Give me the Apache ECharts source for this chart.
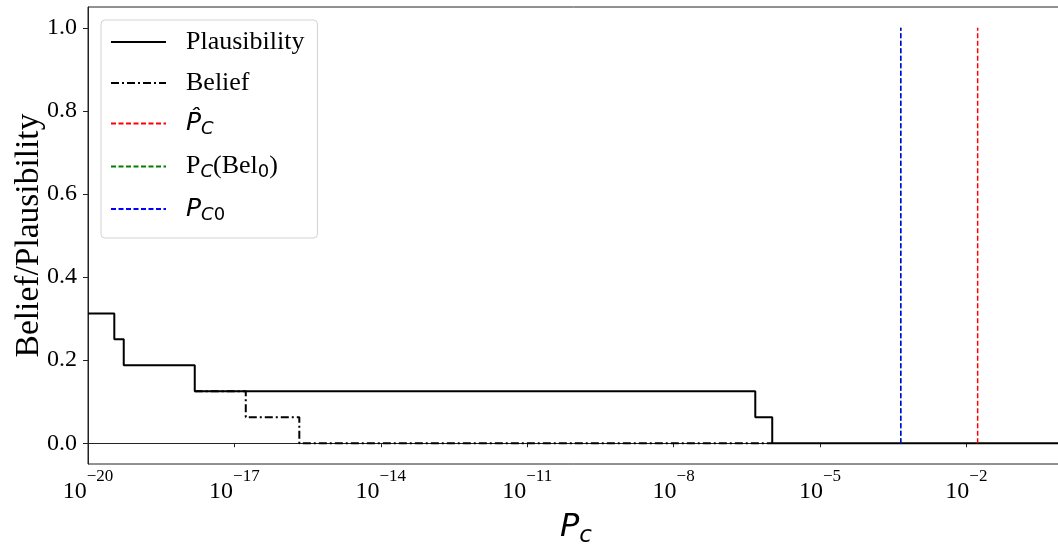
<!DOCTYPE html>
<html><head><meta charset="utf-8">
<script src="https://cdn.jsdelivr.net/npm/echarts@6/dist/echarts.min.js"></script>
<style>html,body{margin:0;padding:0;background:#fff}#c{width:1058px;height:546px}</style>
</head><body><div id="c"></div>
<script>
// Data
const plausX = [1e-20, 3.46e-20, 5.40e-20, 1.54e-18, 4.72e-7, 1.05e-6, 1];
const plausY = [0.3125, 0.25, 0.1875, 0.125, 0.0625, 0, 0];
const beliefX = [1.54e-18, 1.71e-17, 2.14e-16, 1.05e-6];
const beliefY = [0.125, 0.0625, 0, 0];
const pcHatX = 1.70e-2;
const pcBel0X = 4.51e-4;
const pc0X = 4.51e-4;
const vLineY = [0, 1];
const yTicks = [0, 0.2, 0.4, 0.6, 0.8, 1.0];
const names = ['Plausibility', 'Belief', 'Phat', 'PcBel0', 'Pc0'];

const pair = (xs, ys) => xs.map((x, i) => [x, ys[i]]);
const vline = (x) => vLineY.map(y => [x, y]);

const legendText = {
  Plausibility: '{rm|Plausibility}',
  Belief: '{rm|Belief}',
  Phat: '{mi|P\u0302}{msub|C}',
  PcBel0: '{rm|P}{msub|C}{rm|(Bel}{nsub|0}{rm|)}',
  Pc0: '{mi|P}{msub|C}{nsub|0}'
};

const serif = 'Liberation Serif';
const sans = 'DejaVu Sans';

const chart = echarts.init(document.getElementById('c'), null, {renderer: 'canvas'});
chart.setOption({
  animation: false,
  backgroundColor: '#fff',
  grid: {left: 88, right: -6, top: 7, bottom: 82, show: true, borderColor: '#222', borderWidth: 1,
         containLabel: false, outerBoundsMode: 'none'},
  xAxis: {
    type: 'log', logBase: 10, min: 1e-20, max: 1, interval: 3,
    axisLine: {show: true, lineStyle: {color: '#222', width: 1}},
    axisTick: {show: true, length: 4, lineStyle: {color: '#222', width: 1}},
    minorTick: {show: false},
    splitLine: {show: false},
    axisLabel: {
      showMaxLabel: false, margin: 4,
      formatter: v => { const e = Math.round(Math.log10(v)); return '{b|10}{s|' + (e < 0 ? '\u2212' : '') + Math.abs(e) + '}'; },
      rich: {
        b: {fontFamily: serif, fontSize: 24, lineHeight: 48, verticalAlign: 'middle', color: '#000'},
        s: {fontFamily: serif, fontSize: 17, lineHeight: 21, verticalAlign: 'top', color: '#000'}
      }
    },
    name: '{i|P}{s|c}', nameLocation: 'middle', nameGap: 44, nameMoveOverlap: false,
    nameTextStyle: {
      rich: {
        i: {fontFamily: sans, fontStyle: 'italic', fontSize: 32, lineHeight: 40, color: '#000'},
        s: {fontFamily: sans, fontStyle: 'italic', fontSize: 23, lineHeight: 23, verticalAlign: 'bottom', color: '#000'}
      }
    }
  },
  yAxis: {
    type: 'value', min: -0.05, max: 1.05,
    axisLine: {show: true, lineStyle: {color: '#222', width: 1}},
    axisTick: {show: true, length: 5, customValues: yTicks, lineStyle: {color: '#222', width: 1}},
    splitLine: {show: false},
    axisLabel: {customValues: yTicks, margin: 11, fontFamily: serif, fontSize: 24, color: '#000', formatter: v => v.toFixed(1)},
    name: 'Belief/Plausibility', nameLocation: 'middle', nameRotate: 90, nameGap: 42, nameMoveOverlap: false,
    nameTextStyle: {fontFamily: serif, fontSize: 33.5, color: '#000'}
  },
  legend: {
    show: true, orient: 'vertical', left: 101, top: 20,
    data: names, selectedMode: false,
    itemWidth: 55, itemHeight: 2, itemGap: 15,
    padding: [9, 13, 14, 9],
    borderColor: '#d3d3d3', borderWidth: 1, borderRadius: 4,
    backgroundColor: 'rgba(255,255,255,0.8)',
    itemStyle: {color: 'rgba(0,0,0,0)', borderWidth: 0, opacity: 0},
    formatter: n => legendText[n],
    textStyle: {
      padding: [0, 0, 0, 15],
      rich: {
        rm: {fontFamily: serif, fontSize: 26, lineHeight: 30, color: '#000'},
        mi: {fontFamily: sans, fontStyle: 'italic', fontSize: 25, lineHeight: 30, color: '#000'},
        msub: {fontFamily: sans, fontStyle: 'italic', fontSize: 18, lineHeight: 18, verticalAlign: 'bottom', color: '#000'},
        nsub: {fontFamily: sans, fontSize: 18, lineHeight: 18, verticalAlign: 'bottom', color: '#000'}
      }
    }
  },
  series: [
    {name: 'Plausibility', type: 'line', step: 'end', symbol: 'none', data: pair(plausX, plausY),
     lineStyle: {color: '#000', width: 2, type: 'solid'}, itemStyle: {color: '#000'}, z: 3},
    {name: 'Belief', type: 'line', step: 'end', symbol: 'none', data: pair(beliefX, beliefY),
     lineStyle: {color: '#000', width: 2, type: [8, 3, 2, 3]}, itemStyle: {color: '#000'}, z: 4},
    {name: 'Phat', type: 'line', symbol: 'none', data: vline(pcHatX),
     lineStyle: {color: '#ff0000', width: 1.5, type: [5, 2.5]}, itemStyle: {color: '#ff0000'}, z: 5},
    {name: 'PcBel0', type: 'line', symbol: 'none', data: vline(pcBel0X),
     lineStyle: {color: '#008000', width: 1.5, type: [5, 2.5]}, itemStyle: {color: '#008000'}, z: 5},
    {name: 'Pc0', type: 'line', symbol: 'none', data: vline(pc0X),
     lineStyle: {color: '#0000ff', width: 1.5, type: [5, 2.5]}, itemStyle: {color: '#0000ff'}, z: 6}
  ]
});
</script></body></html>
